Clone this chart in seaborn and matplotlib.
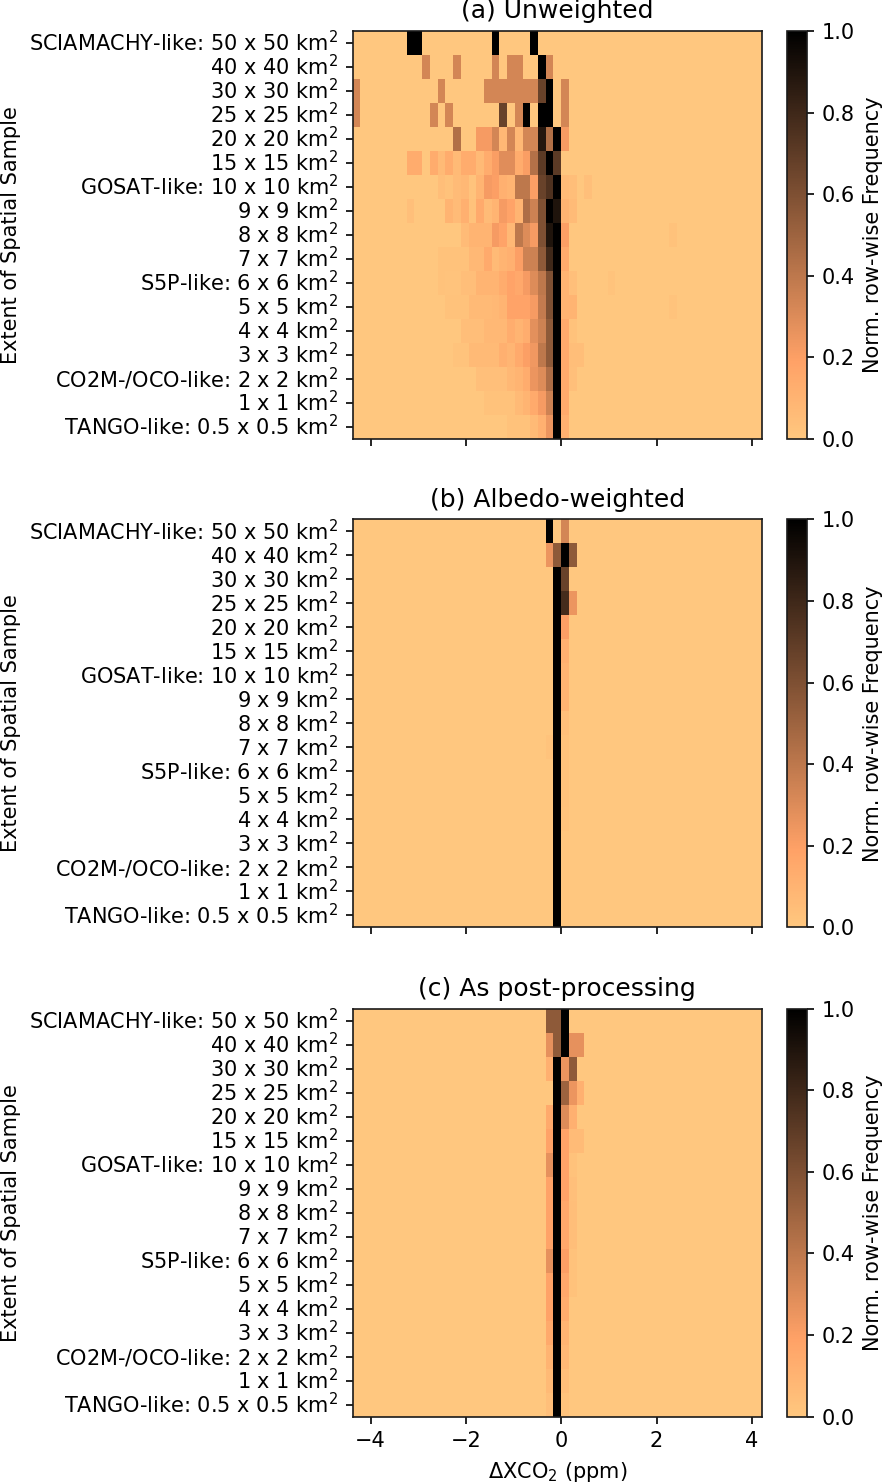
import numpy as np
import pandas as pd
import seaborn as sns
from matplotlib import pyplot as plt

sample_labels = ["SCIAMACHY-like: 50 x 50 km$^2$", "40 x 40 km$^2$", "30 x 30 km$^2$",
                 "25 x 25 km$^2$", "20 x 20 km$^2$", "15 x 15 km$^2$",
                 "GOSAT-like: 10 x 10 km$^2$", "9 x 9 km$^2$", "8 x 8 km$^2$",
                 "7 x 7 km$^2$", "S5P-like: 6 x 6 km$^2$", "5 x 5 km$^2$",
                 "4 x 4 km$^2$", "3 x 3 km$^2$", "CO2M-/OCO-like: 2 x 2 km$^2$",
                 "1 x 1 km$^2$", "TANGO-like: 0.5 x 0.5 km$^2$"]

panel_titles = ["(a) Unweighted", "(b) Albedo-weighted", "(c) As post-processing"]

# histogram bins in ppm (bin 27 starts at 0)
n_bins = 53
bin_width = 0.162
first_edge = -27 * bin_width
x_tick_values = [-4, -2, 0, 2, 4]

# normalised row-wise frequency, {bin index: value}, rows top to bottom
unweighted_rows = [
    {7: 1, 8: 1, 18: 1, 23: 1},
    {9: .33, 13: .33, 18: .33, 20: .33, 21: .33, 24: 1, 25: .33},
    {0: .33, 11: .33, 17: .33, 18: .33, 19: .33, 20: .33, 21: .33, 22: .33, 23: .33,
     24: .67, 25: 1, 27: .33},
    {0: .33, 10: .33, 12: .33, 19: .67, 21: .33, 22: 1, 24: 1, 25: 1, 27: .33},
    {13: .44, 16: .22, 17: .22, 18: .33, 19: .08, 20: .33, 21: .08, 22: .33, 23: .33,
     24: .89, 25: .44, 26: 1, 27: .22},
    {7: .14, 8: .14, 10: .14, 11: .07, 12: .14, 13: .07, 14: .14, 15: .14, 16: .07,
     17: .14, 18: .21, 19: .29, 20: .29, 21: .14, 22: .21, 23: .43, 24: .71, 25: 1, 26: .71},
    {11: .05, 12: .03, 13: .06, 14: .08, 15: .02, 16: .1, 17: .22, 18: .2, 19: .12,
     20: .1, 21: .4, 22: .4, 23: .2, 24: .67, 25: .75, 26: 1, 27: .06, 28: .05, 30: .04},
    {7: .04, 12: .1, 13: .06, 14: .12, 15: .03, 16: .15, 17: .06, 18: .1, 19: .22,
     20: .18, 21: .1, 22: .45, 23: .35, 24: .6, 25: 1, 26: .9, 27: .1, 28: .06},
    {14: .06, 15: .1, 16: .1, 17: .1, 18: .22, 19: .18, 20: .08, 21: .4, 22: .3,
     23: .22, 24: .6, 25: .9, 26: 1, 27: .2, 41: .03},
    {11: .03, 12: .03, 13: .03, 14: .03, 15: .08, 16: .08, 17: .15, 18: .07, 19: .1,
     20: .12, 21: .2, 22: .35, 23: .35, 24: .55, 25: .8, 26: 1, 27: .15},
    {11: .03, 12: .02, 13: .02, 14: .05, 15: .05, 16: .1, 17: .1, 18: .1, 19: .14,
     20: .18, 21: .16, 22: .22, 23: .3, 24: .4, 25: .6, 26: 1, 27: .1, 28: .04, 33: .02},
    {12: .03, 13: .03, 14: .03, 15: .07, 16: .07, 17: .07, 18: .08, 19: .1, 20: .18,
     21: .18, 22: .18, 23: .22, 24: .38, 25: .6, 26: 1, 27: .1, 28: .1, 41: .02},
    {14: .05, 15: .05, 16: .05, 17: .08, 18: .08, 19: .08, 20: .13, 21: .1, 22: .13,
     23: .28, 24: .35, 25: .55, 26: 1, 27: .15, 28: .03},
    {13: .02, 14: .02, 15: .07, 16: .07, 17: .07, 18: .07, 19: .12, 20: .09, 21: .15,
     22: .2, 23: .24, 24: .4, 25: .55, 26: 1, 27: .15, 28: .05, 29: .05},
    {16: .04, 17: .04, 18: .04, 19: .04, 20: .08, 21: .1, 22: .14, 23: .25, 24: .3,
     25: .45, 26: 1, 27: .15, 28: .04},
    {17: .03, 18: .03, 19: .03, 20: .03, 21: .07, 22: .1, 23: .15, 24: .22, 25: .35,
     26: 1, 27: .15},
    {20: .03, 21: .03, 22: .03, 23: .07, 24: .12, 25: .25, 26: 1, 27: .12},
]

albedo_rows = [
    {25: 1, 27: .33},
    {25: .25, 26: .55, 27: 1, 28: .55},
    {26: 1, 27: .67},
    {26: 1, 27: .78, 28: .25},
    {26: 1, 27: .2},
    {26: 1, 27: .12},
    {26: 1, 27: .1},
    {26: 1, 27: .1},
    {26: 1, 27: .04},
    {25: .02, 26: 1, 27: .03},
    {26: 1, 27: .03},
    {26: 1, 27: .03},
    {26: 1, 27: .02},
    {26: 1, 27: .01},
    {26: 1, 27: .01},
    {26: 1, 27: .01},
    {26: 1, 27: .01},
]

postproc_rows = [
    {25: .55, 26: .55, 27: 1},
    {25: .27, 26: .55, 27: 1, 28: .27, 29: .27},
    {25: .12, 26: 1, 27: .25, 28: .55},
    {26: 1, 27: .5, 28: .25, 29: .12},
    {25: .15, 26: 1, 27: .3, 28: .12},
    {25: .18, 26: 1, 27: .18, 28: .06, 29: .06},
    {25: .27, 26: 1, 27: .18, 28: .03},
    {25: .18, 26: 1, 27: .18, 28: .04},
    {25: .18, 26: 1, 27: .16, 28: .05},
    {25: .18, 26: 1, 27: .16, 28: .05},
    {25: .27, 26: 1, 27: .2, 28: .03},
    {25: .18, 26: 1, 27: .16, 28: .03},
    {25: .18, 26: 1, 27: .14},
    {25: .15, 26: 1, 27: .1},
    {25: .1, 26: 1, 27: .08},
    {25: .07, 26: 1, 27: .05},
    {25: .04, 26: 1, 27: .02},
]


def build_frame(rows):
    values = np.zeros((len(sample_labels), n_bins))
    for i, row in enumerate(rows):
        for b, v in row.items():
            values[i, b] = v
    centers = first_edge + bin_width * (np.arange(n_bins) + 0.5)
    return pd.DataFrame(values, index=sample_labels, columns=np.round(centers, 3))


sns.set_style("ticks", rc={"text.color": "black", "axes.labelcolor": "black",
                           "xtick.color": "black", "ytick.color": "black",
                           "axes.edgecolor": "0.1"})

fig = plt.figure(figsize=(883 / 150, 1482 / 150), dpi=150)

panels = [unweighted_rows, albedo_rows, postproc_rows]
bottoms = [0.7038, 0.3742, 0.0441]
height = 0.2753

for n, rows in enumerate(panels):
    ax = fig.add_axes([0.3994, bottoms[n], 0.4636, height])
    cax = fig.add_axes([0.891, bottoms[n], 0.0233, height])
    df = build_frame(rows)
    sns.heatmap(df, ax=ax, cbar_ax=cax, cmap="copper_r", vmin=0, vmax=1,
                xticklabels=False, yticklabels=sample_labels,
                cbar_kws={"label": "Norm. row-wise Frequency"})

    ax.set_yticklabels(sample_labels, rotation=0, va="center", fontsize=10)
    ax.set_xticks([(v - first_edge) / bin_width for v in x_tick_values])
    ax.set_xticklabels([str(v).replace("-", "\u2212") for v in x_tick_values], fontsize=10)
    for spine in ax.spines.values():
        spine.set_visible(True)
        spine.set_linewidth(0.8)
    ax.tick_params(axis="both", length=3.5, width=0.8)
    ax.set_title(panel_titles[n], fontsize=12)
    ax.set_ylabel("Extent of Spatial Sample", fontsize=10)
    if n < 2:
        ax.tick_params(labelbottom=False)
        ax.set_xlabel("")
    else:
        ax.set_xlabel("$\\Delta$XCO$_2$ (ppm)", fontsize=10)

    cb = ax.collections[0].colorbar
    cb.outline.set_visible(True)
    cb.outline.set_linewidth(0.8)
    cb.outline.set_edgecolor("0.1")
    cb.ax.tick_params(labelsize=10, length=3.5, width=0.8)
    cb.set_label("Norm. row-wise Frequency", fontsize=10)

fig.savefig("out.png", dpi=150)
